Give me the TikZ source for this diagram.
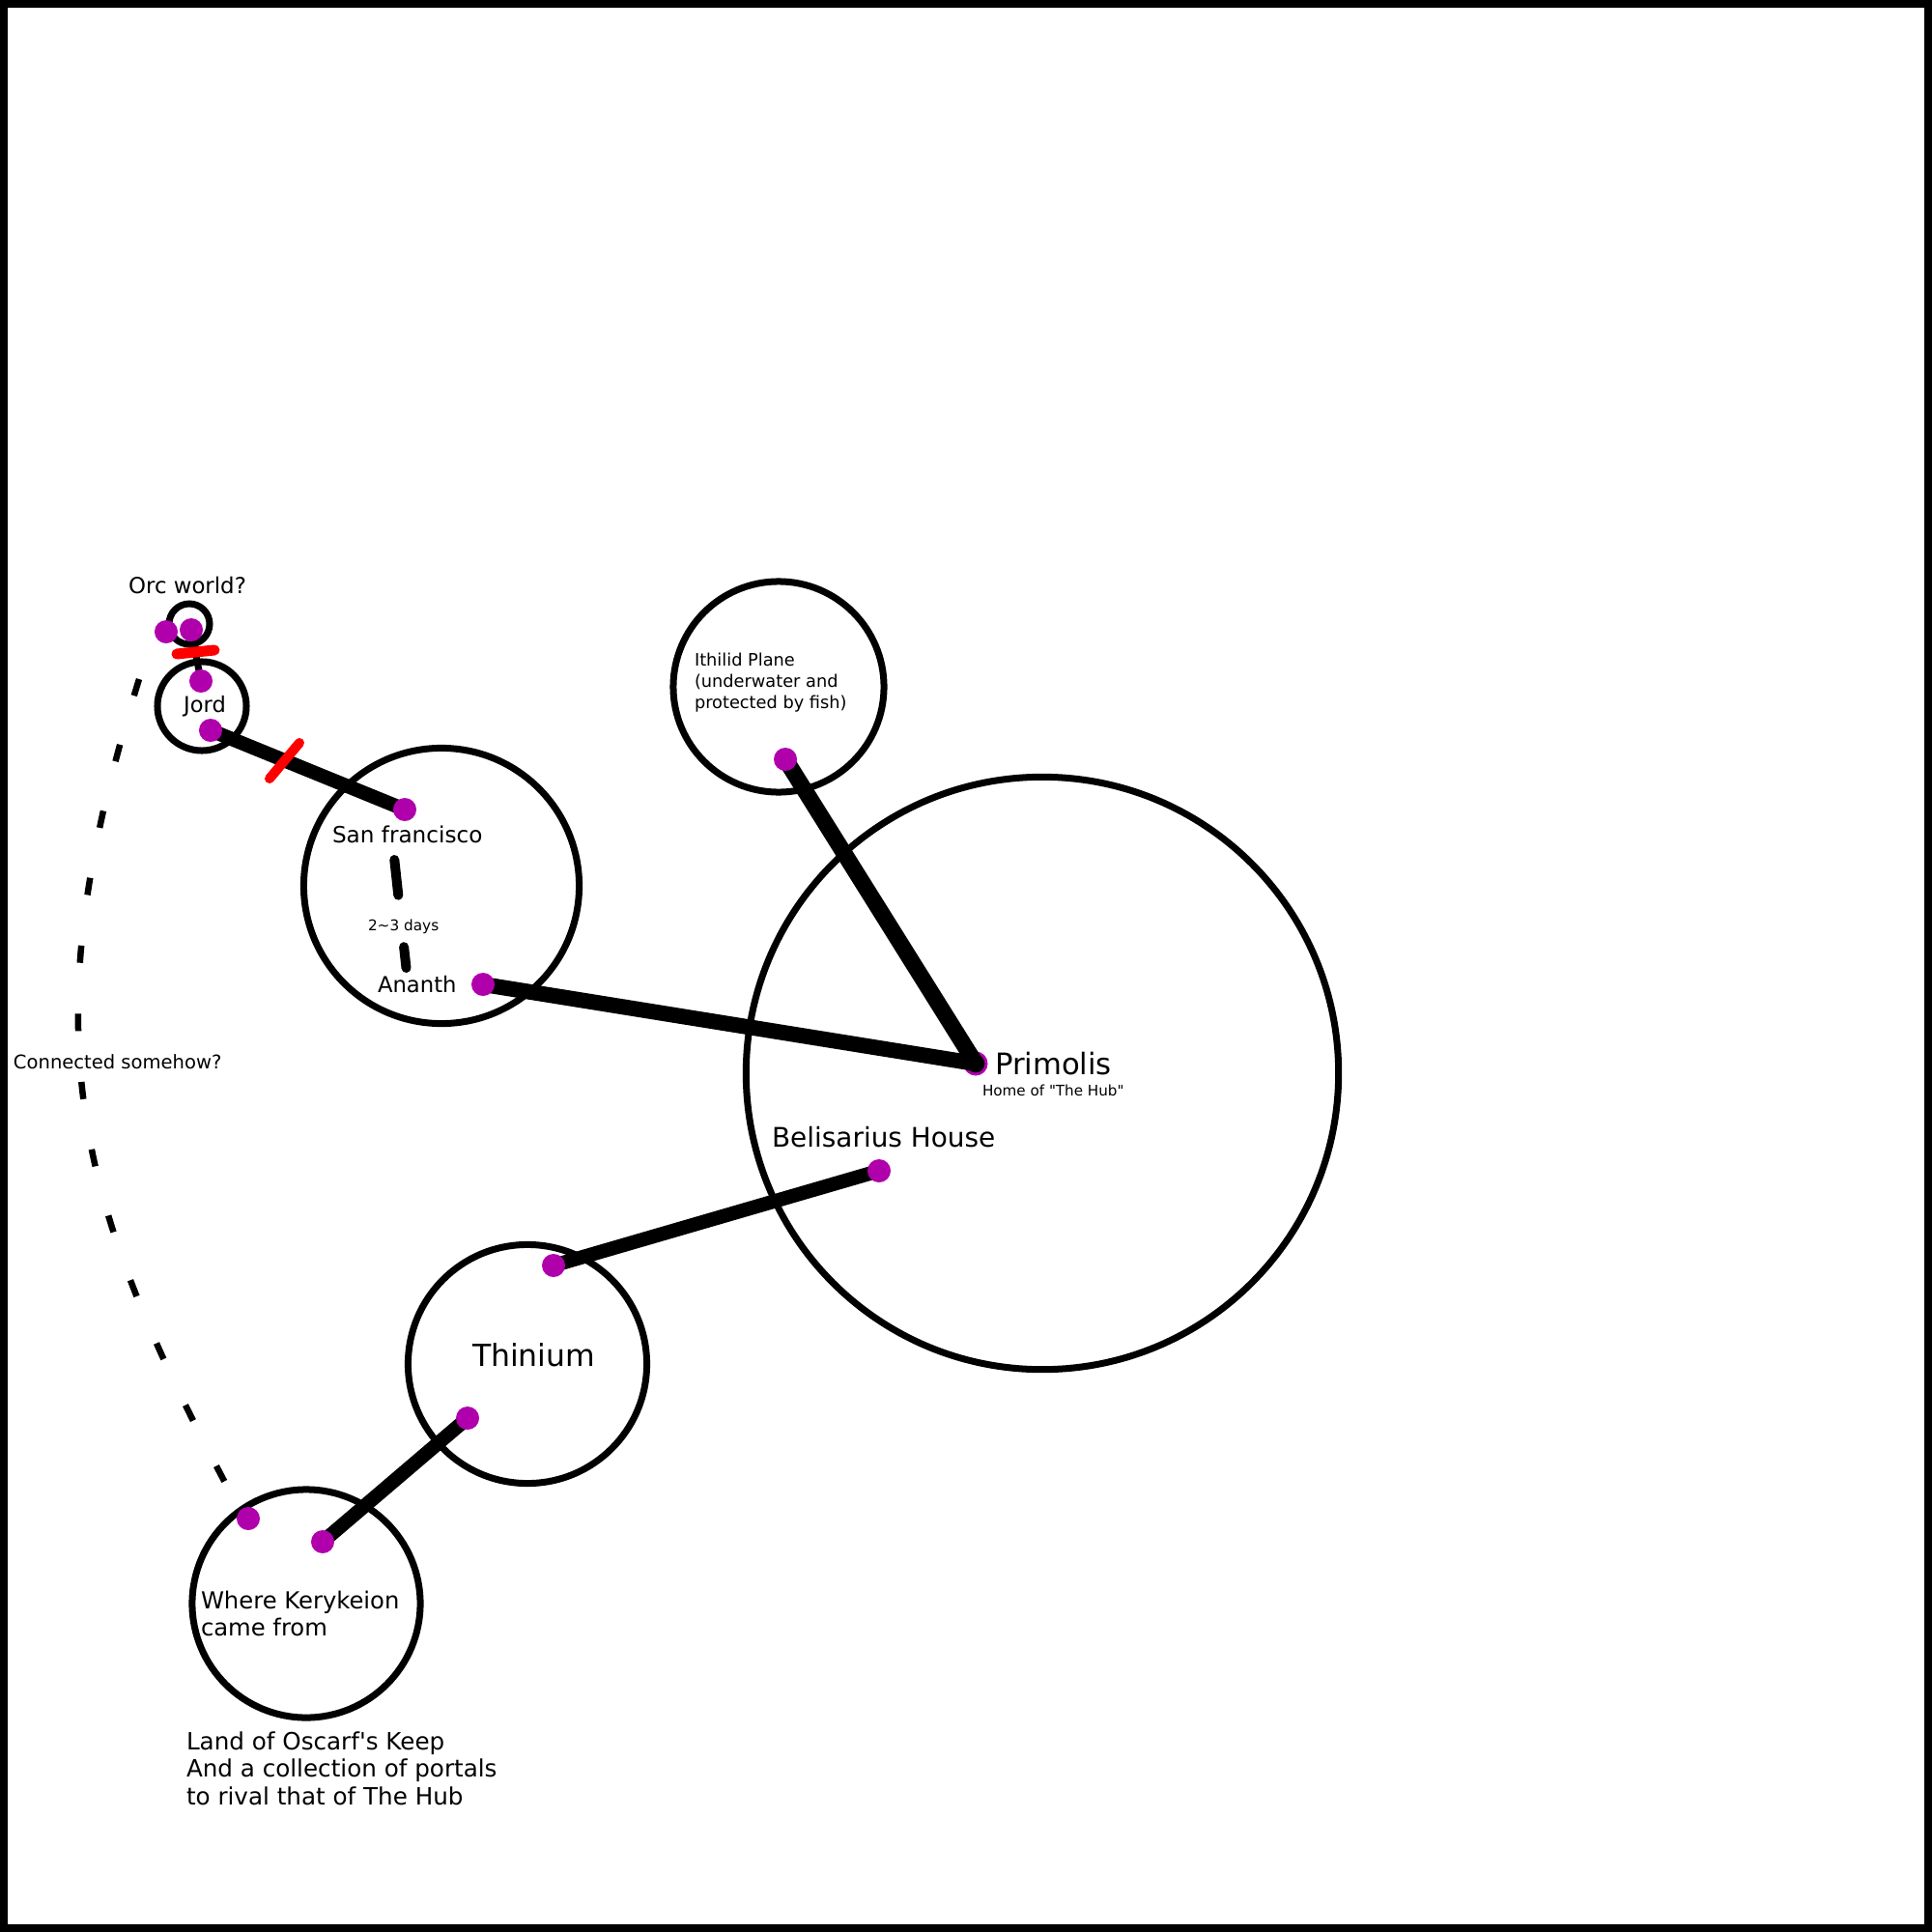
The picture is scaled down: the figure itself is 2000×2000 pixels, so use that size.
\documentclass[tikz,border=0pt]{standalone}
\usepackage{fontspec}
\newfontfamily\dv{DejaVu Sans}
\pgfdeclarelayer{bg}
\pgfsetlayers{bg,main}
\definecolor{dotpurple}{RGB}{176,0,172}
\definecolor{markred}{RGB}{255,0,0}
\begin{document}
\begin{tikzpicture}[x=0.01cm,y=-0.01cm,
  world/.style={circle,draw=black,line width=0.07cm,inner sep=0pt,outer sep=0pt},
  portal/.style={circle,fill=dotpurple,inner sep=0pt,minimum size=0.24cm},
  hubportal/.style={circle,draw=dotpurple,fill=black,line width=0.03cm,inner sep=0pt,minimum size=0.22cm},
  lbl/.style={inner sep=0pt,outer sep=0pt,anchor=base west},
  link/.style={line width=#1,line cap=round,draw=black},
  redmark/.style={draw=markred,line width=#1,line cap=round},
  vague/.style={draw=black,line width=0.065cm,dash pattern=on 5.1pt off 15pt},
]
\useasboundingbox (0,0) rectangle (2000,2000);
\draw[line width=0.08cm] (4,4) rectangle (1996,1996);

% worlds
\node[world,minimum size=0.42cm] (orc) at (196,646) {};
\node[world,minimum size=0.92cm] (jord) at (209,731) {};
\node[world,minimum size=2.85cm] (sf) at (457,917) {};
\node[world,minimum size=2.18cm] (ith) at (806,711) {};
\node[world,minimum size=6.13cm] (prim) at (1079,1111) {};
\node[world,minimum size=2.47cm] (thin) at (546,1412) {};
\node[world,minimum size=2.36cm] (ker) at (317,1660) {};

% portals
\node[portal] (o1) at (172,654) {};
\node[portal] (o2) at (198,652) {};
\node[portal] (j1) at (208,705) {};
\node[portal] (j2) at (218,756) {};
\node[portal] (s1) at (419,838) {};
\node[portal] (a1) at (500,1019) {};
\node[portal] (i1) at (813,786) {};
\node[portal] (b1) at (910,1212) {};
\node[portal] (t1) at (573,1310) {};
\node[portal] (t2) at (484,1468) {};
\node[portal] (k1) at (257,1572) {};
\node[portal] (k2) at (334,1596) {};

\coordinate (sfa) at (408.3,890);
\coordinate (ana) at (420.5,1002);
\coordinate (cs) at (144,703);
\coordinate (ce) at (240,1548);

\begin{pgfonlayer}{bg}
\node[hubportal] (p1) at (1010,1101) {};
\draw[link=0.07cm] (o2.center) -- (j1.center);
\draw[link=0.145cm] (j2.center) -- (s1.center);
\draw[link=0.10cm,dash pattern=on 10.5pt off 15.3pt] (sfa) -- (ana);
\draw[link=0.16cm] (a1.center) -- (p1.center);
\draw[link=0.17cm] (i1.center) -- (p1.center);
\draw[link=0.145cm] (b1.center) -- (t1.center);
\draw[link=0.145cm] (t2.center) -- (k2.center);
\draw[vague] (cs) .. controls (32,1065) and (72,1233) .. (ce);
\end{pgfonlayer}

% blocked marks
\draw[redmark=0.11cm] (183,677) -- (222,673);
\draw[redmark=0.10cm] (279,806) -- (310,769);

% labels
\node[lbl,anchor=base] (orcl) at (194,614) {\dv\fontsize{6.5pt}{7.8pt}\selectfont Orc world?};
\node[lbl,anchor=base] (jordl) at (212,737) {\dv\fontsize{6.4pt}{7.7pt}\selectfont Jord};
\node[lbl] (sfl) at (344,872) {\dv\fontsize{6.58pt}{7.9pt}\selectfont San francisco};
\node[lbl] (days) at (381,963) {\dv\fontsize{4.35pt}{5.2pt}\selectfont 2\textasciitilde3 days};
\node[lbl] (anl) at (391,1027) {\dv\fontsize{6.46pt}{7.8pt}\selectfont Ananth};
\node[lbl,align=left,font=\dv\fontsize{5.05pt}{6.15pt}\selectfont] (ithl) at (719,733) {Ithilid Plane\\(underwater and\\protected by fish)};
\node[lbl] (priml) at (1030,1112) {\dv\fontsize{8.73pt}{10.5pt}\selectfont Primolis};
\node[lbl] (hubl) at (1017,1134) {\dv\fontsize{4.31pt}{5.2pt}\selectfont Home of "The Hub"};
\node[lbl] (bell) at (799,1187) {\dv\fontsize{7.94pt}{9.5pt}\selectfont Belisarius House};
\node[lbl] (thinl) at (489,1414) {\dv\fontsize{8.96pt}{10.8pt}\selectfont Thinium};
\node[lbl] (conl) at (14,1106) {\dv\fontsize{5.56pt}{6.7pt}\selectfont Connected somehow?};
\node[lbl,align=left,font=\dv\fontsize{6.9pt}{7.94pt}\selectfont] (kerl) at (208,1693) {Where Kerykeion\\came from};
\node[lbl,align=left,font=\dv\fontsize{7.0pt}{8.08pt}\selectfont] (keepl) at (193,1868) {Land of Oscarf's Keep\\And a collection of portals\\to rival that of The Hub};
\end{tikzpicture}
\end{document}
